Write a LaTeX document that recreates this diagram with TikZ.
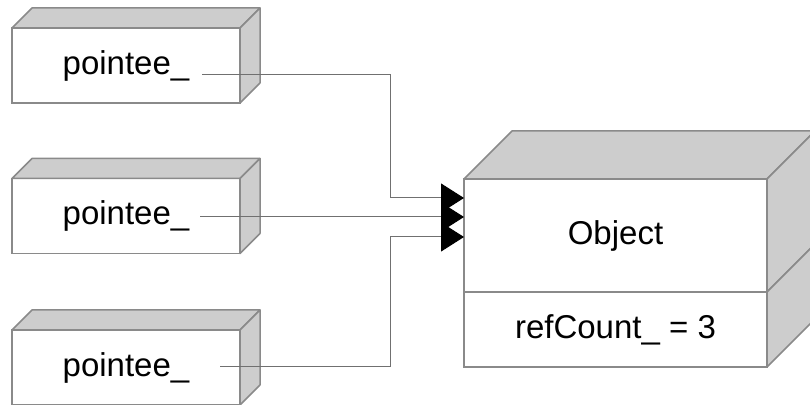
\documentclass[tikz,border=0pt]{standalone}
\usepackage{fontspec}
\setmainfont{Liberation Sans}
\usepackage{xcolor}
\usetikzlibrary{arrows.meta, positioning, calc}

\definecolor{boxgray}{HTML}{8A8A8A}
\definecolor{sidegray}{HTML}{CDCDCD}
\definecolor{linegray}{HTML}{707070}

\tikzset{
  slab/.style={draw=boxgray, fill=white, line width=0.75pt, outer sep=0pt, inner sep=0pt,
    minimum width=114pt, minimum height=37.5pt, font=\fontsize{16.5}{20}\selectfont},
  face/.style={draw=boxgray, fill=sidegray, line width=0.75pt, line join=round},
  ptr/.style={draw=linegray, line width=0.5pt, -{Triangle[length=11.5pt, width=14.5pt, color=black]}}
}

% top and right faces of a box, #2 = depth
\newcommand{\slabtop}[2]{\draw[face] (#1.north west) -- ++(#2,-#2) -- ($(#1.north east)+(#2,-#2)$) -- (#1.north east) -- cycle;}
\newcommand{\slabside}[2]{\draw[face] (#1.north east) -- ++(#2,-#2) -- ($(#1.south east)+(#2,-#2)$) -- (#1.south east) -- cycle;}

\begin{document}
\begin{tikzpicture}[x=0.5pt, y=-0.5pt]
  \useasboundingbox (0,0) rectangle (810,405);
  \clip (0,0) rectangle (810,405);

  % pointers
  \node[slab] (ptrA) at (126,65.5) {pointee\_};
  \node[slab] (ptrB) at (126,216) {pointee\_};
  \node[slab] (ptrC) at (126,367.5) {pointee\_};
  \foreach \p in {ptrA, ptrB, ptrC} {
    \slabtop{\p}{20}
    \slabside{\p}{20}
  }

  % shared object
  \node[slab, minimum width=151.5pt, minimum height=56.5pt] (obj) at (615.5,235.5) {Object};
  \node[slab, minimum width=151.5pt, below=0pt of obj] (count) {refCount\_ = 3};
  \slabtop{obj}{48}
  \slabside{obj}{48}
  \slabside{count}{48}

  \coordinate (ptrA-out) at (202,75);
  \coordinate (ptrB-out) at (200,217);
  \coordinate (ptrC-out) at (220,367);
  \coordinate (bend) at (390,0);
  \coordinate (inA) at ($(obj.west)+(0,-37.5)$);
  \coordinate (inB) at ($(obj.west)+(0,-18.5)$);
  \coordinate (inC) at ($(obj.west)+(0,1.5)$);

  % references
  \draw[ptr] (ptrA-out) -- (ptrA-out -| bend) |- (inA);
  \draw[ptr] (ptrB-out) -- (inB);
  \draw[ptr] (ptrC-out) -- (ptrC-out -| bend) |- (inC);
\end{tikzpicture}
\end{document}
